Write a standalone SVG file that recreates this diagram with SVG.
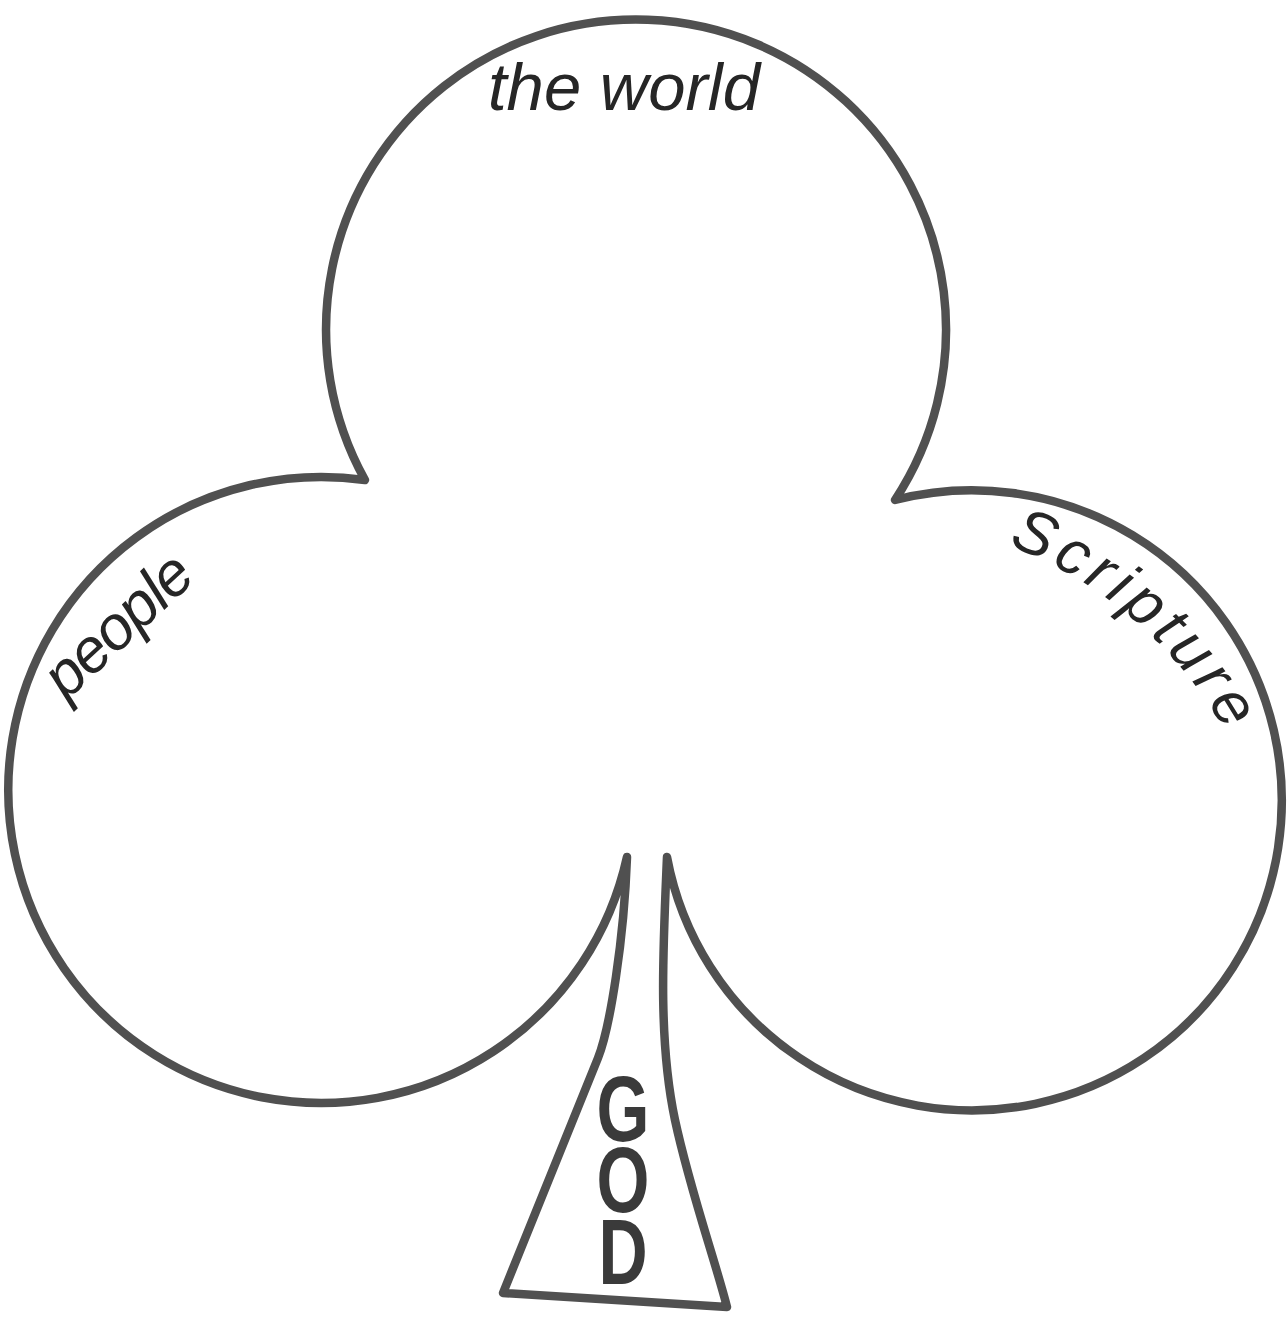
<svg xmlns="http://www.w3.org/2000/svg" width="1288" height="1322" viewBox="0 0 1288 1322">
  <style>
    .outline { fill: none; stroke: #505050; stroke-width: 8.5; stroke-linejoin: round; stroke-linecap: round; }
    .hand { font-family: "Liberation Sans", "DejaVu Sans", sans-serif; font-style: italic; fill: #262626; }
    .god { font-family: "Liberation Sans", "DejaVu Sans", sans-serif; font-weight: bold; fill: #3a3a3a; writing-mode: vertical-rl; text-orientation: upright; }
  </style>
  <defs>
    <path id="scrArc" d="M 1008 545 A 420 420 0 0 1 1240 760"/>
  </defs>
  <rect width="1288" height="1322" fill="#ffffff"/>
  <g id="club">
    <path class="outline" d="M 365 480 A 310 310 0 1 1 895 500 A 310 310 0 1 1 667 857 C 663 950 658 1040 675 1120 C 690 1190 715 1260 727 1307 L 503 1293 L 598 1058 C 610 1028 624 940 627 857 A 313 313 0 1 1 365 480 Z"/>
  </g>
  <g id="label-world">
    <text class="hand" x="488" y="110" font-size="66" textLength="272" lengthAdjust="spacingAndGlyphs">the world</text>
  </g>
  <g id="label-people">
    <text class="hand" x="0" y="0" font-size="62" text-anchor="middle" textLength="180" lengthAdjust="spacing" transform="translate(132,640) rotate(-43)">people</text>
  </g>
  <g id="label-scripture">
    <text class="hand" font-size="62"><textPath href="#scrArc" textLength="292" lengthAdjust="spacing">Scripture</textPath></text>
  </g>
  <g id="label-god">
    <text class="god" x="842" y="1058" font-size="92" letter-spacing="-31" transform="scale(0.74,1)">GOD</text>
  </g>
</svg>
